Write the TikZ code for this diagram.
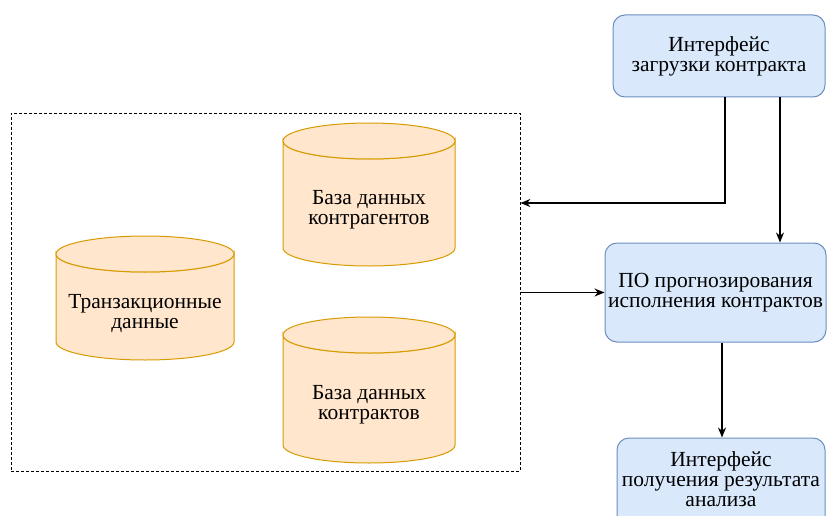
\documentclass[tikz,border=0pt]{standalone}
\usepackage{fontspec}
\setmainfont{Liberation Serif}
\usetikzlibrary{arrows.meta,calc}
\definecolor{bfill}{HTML}{DAE8FC}
\definecolor{bdraw}{HTML}{6C8EBF}
\definecolor{ofill}{HTML}{FFE6CC}
\definecolor{odraw}{HTML}{D79B00}
\begin{document}
\begin{tikzpicture}[x=1pt,y=-1pt,
  box/.style={draw=bdraw,fill=bfill,rounded corners=12pt,line width=1pt,inner sep=0pt,align=center,font=\fontsize{21.5}{20}\selectfont},
  lbl/.style={align=center,font=\fontsize{21.5}{20}\selectfont,inner sep=0pt},
  conn/.style={line width=1.2pt,-{Stealth[length=10pt,width=8pt]}},
  cyl/.style={draw=odraw,fill=ofill,line width=1pt},
  grpbox/.style={draw=black,line width=0.8pt,dash pattern=on 3pt off 2pt,inner sep=0pt}]
\useasboundingbox (0,0) rectangle (827,516);
% container
\node[grpbox,minimum width=509pt,minimum height=358pt] (grp) at (265.5,292) {};
% cylinders
\newcommand{\mycyl}[4]{% cx, rx, top y, bottom y
  \draw[cyl] (#1-#2,#3) -- (#1-#2,#4) arc[start angle=180,end angle=360,x radius=#2,y radius=-18] -- (#1+#2,#3) arc[start angle=0,end angle=-180,x radius=#2,y radius=-18] -- cycle;
  \draw[cyl] (#1,#3) ellipse[x radius=#2,y radius=18];}
\mycyl{145}{89}{254}{342}
\mycyl{369}{86}{141}{248}
\mycyl{369}{86}{335}{445}
\node[lbl] (trans) at (145,314) {Транзакционные\\данные};
\node[lbl] (kontragent) at (369,210) {База данных\\контрагентов};
\node[lbl] (kontrakt) at (369,405) {База данных\\контрактов};
% blue boxes
\node[box,minimum width=212pt,minimum height=82pt] (upload) at (719,56) {Интерфейс\\загрузки контракта};
\node[box,minimum width=221pt,minimum height=99pt] (po) at (715.5,292.5) {ПО прогнозирования\\исполнения контрактов};
\node[box,minimum width=208pt,minimum height=92pt] (result) at (721,484) {};
\node[lbl] (resulttext) at (721,479) {Интерфейс\\получения результата\\анализа};
% connectors
\coordinate (bend) at (725,203);
\draw[conn] (bend |- upload.south) -- (bend) -- (grp.east |- bend);
\coordinate (dropx) at (780,0);
\draw[conn] (dropx |- upload.south) -- (dropx |- po.north);
\draw[conn] (grp.east |- po.west) -- (po.west);
\coordinate (outx) at (722,0);
\draw[conn] (outx |- po.south) -- (outx |- result.north);
\end{tikzpicture}
\end{document}
